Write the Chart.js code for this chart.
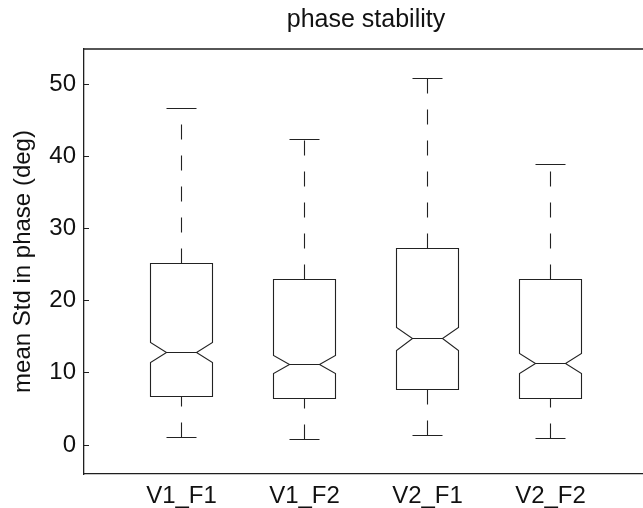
<!DOCTYPE html>
<html>
<head>
<meta charset="utf-8">
<script src="https://cdn.jsdelivr.net/npm/chart.js@4"></script>
<style>
  html, body { margin: 0; padding: 0; background: #fff; overflow: hidden; }
  #wrap { width: 732px; height: 508px; }
</style>
</head>
<body>
<div id="wrap"><canvas id="boxChart" width="732" height="508"></canvas></div>
<script>
// groups and box statistics
const groups = ['V1_F1', 'V1_F2', 'V2_F1', 'V2_F2'];
const whiskerLow = [1.1, 0.75, 1.25, 0.85];
const q1 = [6.7, 6.4, 7.7, 6.4];
const notchLow = [11.4, 9.85, 13.1, 9.9];
const median = [12.8, 11.2, 14.8, 11.25];
const notchHigh = [14.2, 12.45, 16.3, 12.65];
const q3 = [25.2, 22.9, 27.3, 22.9];
const whiskerHigh = [46.7, 42.4, 50.8, 38.9];
const yTicks = [0, 10, 20, 30, 40, 50];

const FONT = '"Liberation Sans", Arial, Helvetica, sans-serif';
const INK = '#222';

// snap to pixel centres so 1px lines stay crisp
const snap = p => Math.round(p - 0.5) + 0.5;

// draws the notched boxes, axes box and inward ticks
const boxPlotPlugin = {
  id: 'boxPlot',
  afterDatasetsDraw(chart) {
    const ctx = chart.ctx;
    const xs = chart.scales.x;
    const ys = chart.scales.y;
    const area = chart.chartArea;
    const X = v => snap(xs.getPixelForValue(v));
    const Y = v => snap(ys.getPixelForValue(v));

    ctx.save();
    ctx.strokeStyle = INK;
    ctx.lineWidth = 1.1;

    groups.forEach((g, i) => {
      const c = i + 1;
      const L = X(c - 0.25), R = X(c + 0.25);
      const iL = X(c - 0.125), iR = X(c + 0.125);
      const cx = X(c);
      const capL = X(c - 0.122), capR = X(c + 0.122);

      // whiskers, drawn bottom to top
      ctx.setLineDash([15, 16]);
      ctx.beginPath();
      ctx.moveTo(cx, Y(whiskerLow[i]));
      ctx.lineTo(cx, Y(q1[i]));
      ctx.stroke();
      ctx.beginPath();
      ctx.moveTo(cx, Y(q3[i]));
      ctx.lineTo(cx, Y(whiskerHigh[i]));
      ctx.stroke();
      ctx.setLineDash([]);

      // caps
      ctx.beginPath();
      ctx.moveTo(capL, Y(whiskerLow[i]));
      ctx.lineTo(capR, Y(whiskerLow[i]));
      ctx.moveTo(capL, Y(whiskerHigh[i]));
      ctx.lineTo(capR, Y(whiskerHigh[i]));
      ctx.stroke();

      // notched box
      ctx.beginPath();
      ctx.moveTo(L, Y(q3[i]));
      ctx.lineTo(R, Y(q3[i]));
      ctx.lineTo(R, Y(notchHigh[i]));
      ctx.lineTo(iR, Y(median[i]));
      ctx.lineTo(R, Y(notchLow[i]));
      ctx.lineTo(R, Y(q1[i]));
      ctx.lineTo(L, Y(q1[i]));
      ctx.lineTo(L, Y(notchLow[i]));
      ctx.lineTo(iL, Y(median[i]));
      ctx.lineTo(L, Y(notchHigh[i]));
      ctx.closePath();
      ctx.moveTo(iL, Y(median[i]));
      ctx.lineTo(iR, Y(median[i]));
      ctx.stroke();
    });

    // axes box (top/right) and inward ticks
    ctx.lineWidth = 1.3;
    ctx.strokeStyle = '#1f1f1f';
    ctx.beginPath();
    ctx.moveTo(area.left, area.top);
    ctx.lineTo(area.right, area.top);
    ctx.lineTo(area.right, area.bottom);
    ctx.stroke();
    ctx.lineWidth = 1;
    ctx.beginPath();
    yTicks.forEach(t => {
      const py = Y(t);
      ctx.moveTo(area.left, py);
      ctx.lineTo(area.left + 5, py);
      ctx.moveTo(area.right - 5, py);
      ctx.lineTo(area.right, py);
    });
    ctx.stroke();
    ctx.restore();
  }
};

new Chart(document.getElementById('boxChart').getContext('2d'), {
  type: 'scatter',
  data: {
    datasets: [{
      label: 'median',
      data: median.map((m, i) => ({ x: i + 1, y: m })),
      pointRadius: 0,
      showLine: false
    }]
  },
  options: {
    responsive: false,
    animation: false,
    layout: { padding: 0 },
    plugins: {
      legend: { display: false },
      tooltip: { enabled: false },
      title: {
        display: true,
        text: 'phase stability',
        color: '#111',
        font: { family: FONT, size: 25, weight: 'normal', lineHeight: 1.2 },
        padding: { top: 5, bottom: 14 }
      }
    },
    scales: {
      x: {
        type: 'linear',
        min: 0.2073,
        max: 4.7927,
        afterBuildTicks: s => { s.ticks = groups.map((g, i) => ({ value: i + 1 })); },
        afterFit: s => { s.height = 34; },
        ticks: {
          callback: v => groups[v - 1],
          color: '#111',
          padding: 7.5,
          maxRotation: 0,
          font: { family: FONT, size: 24 }
        },
        grid: { display: false, drawTicks: false },
        border: { display: true, color: '#1f1f1f', width: 1.3 }
      },
      y: {
        min: -4.02,
        max: 54.9,
        afterBuildTicks: s => { s.ticks = yTicks.map(v => ({ value: v })); },
        afterFit: s => { s.width = 84; },
        ticks: {
          color: '#111',
          padding: 8,
          font: { family: FONT, size: 24 }
        },
        grid: { display: false, drawTicks: false },
        border: { display: true, color: '#1f1f1f', width: 1.3 },
        title: {
          display: true,
          text: 'mean Std in phase (deg)',
          color: '#111',
          font: { family: FONT, size: 24, lineHeight: 1.2 },
          padding: { top: 9, bottom: 0 }
        }
      },
      // empty right-hand axis: keeps the plot frame running past the window edge
      yRight: {
        position: 'right',
        min: -4.02,
        max: 54.9,
        afterFit: s => { s.width = 84; },
        ticks: { display: false },
        grid: { display: false, drawTicks: false },
        border: { display: false }
      }
    }
  },
  plugins: [boxPlotPlugin]
});
</script>
</body>
</html>
